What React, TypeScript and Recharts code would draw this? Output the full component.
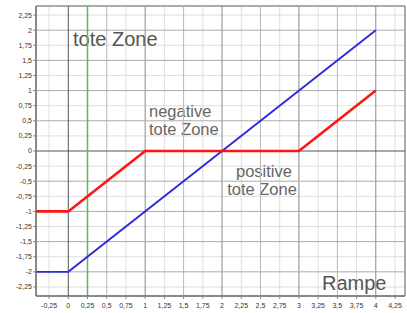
import React from 'react';
import { LineChart, Line, XAxis, YAxis, CartesianGrid, ReferenceLine, ReferenceArea } from 'recharts';

const xDomain = [-0.42, 4.38];
const yDomain = [-2.4, 2.4];

const xTicks = [-0.25, 0, 0.25, 0.5, 0.75, 1, 1.25, 1.5, 1.75, 2, 2.25, 2.5, 2.75, 3, 3.25, 3.5, 3.75, 4, 4.25];
const yTicks = [-2.25, -2, -1.75, -1.5, -1.25, -1, -0.75, -0.5, -0.25, 0, 0.25, 0.5, 0.75, 1, 1.25, 1.5, 1.75, 2, 2.25];

const xHalf = [0.5, 1.5, 2.5, 3.5];
const xWhole = [1, 2, 3, 4];
const yHalf = [-2, -1.5, -1, -0.5, 0.5, 1, 1.5, 2];

// Rampe (blau)
const rampeX = [-0.42, 0, 4];
const rampeY = [-2, -2, 2];

// mit toter Zone (rot)
const toteX = [-0.42, 0, 1, 3, 4];
const toteY = [-1, -1, 0, 0, 1];

const deadZoneX = 0.25;

const rampeData = rampeX.map((x, i) => ({ x, y: rampeY[i] }));
const toteData = toteX.map((x, i) => ({ x, y: toteY[i] }));

const fmt = (v: number) => String(v).replace('.', ',');

const font = '"Liberation Sans", Arial, sans-serif';

export default function App() {
  return (
    <div style={{ position: 'absolute', left: 0, top: 0, width: 407, height: 313, background: '#fff' }}>
      <LineChart width={407} height={313} margin={{ top: 6, right: 2, left: 0, bottom: 0 }}>
        <CartesianGrid stroke="#dedede" />
        <XAxis
          type="number"
          dataKey="x"
          domain={xDomain}
          ticks={xTicks}
          tickFormatter={fmt}
          allowDataOverflow
          height={17}
          tickSize={3}
          tickMargin={4}
          axisLine={{ stroke: '#666' }}
          tickLine={{ stroke: '#888' }}
          tick={{ fontSize: 7, fill: '#333', fontFamily: font }}
        />
        <YAxis
          type="number"
          dataKey="y"
          domain={yDomain}
          ticks={yTicks}
          tickFormatter={fmt}
          allowDataOverflow
          width={36}
          tickSize={3}
          tickMargin={1}
          axisLine={{ stroke: '#666' }}
          tickLine={{ stroke: '#888' }}
          tick={{ fontSize: 7, fill: '#333', fontFamily: font }}
        />
        {xHalf.map((v) => (
          <ReferenceLine key={'xh' + v} x={v} stroke="#b8b8b8" />
        ))}
        {xWhole.map((v) => (
          <ReferenceLine key={'xw' + v} x={v} stroke="#8a8a8a" />
        ))}
        {yHalf.map((v) => (
          <ReferenceLine key={'yh' + v} y={v} stroke="#aaaaaa" />
        ))}
        <ReferenceLine x={0} stroke="#555" />
        <ReferenceLine y={0} stroke="#555" />
        <ReferenceArea x1={xDomain[0]} x2={xDomain[1]} y1={yDomain[0]} y2={yDomain[1]} fill="none" stroke="#666" />
        <ReferenceLine x={deadZoneX} stroke="#5cb85c" strokeWidth={1.5} />
        <Line data={rampeData} dataKey="y" stroke="#2b2bdc" strokeWidth={1.9} dot={false} isAnimationActive={false} />
        <Line data={toteData} dataKey="y" stroke="#ff1414" strokeWidth={2.6} dot={false} isAnimationActive={false} />
        <text x={73} y={46} fontSize={20} fill="#555" fontFamily={font}>tote Zone</text>
        <text x={149} y={117} fontSize={16.5} fill="#666" fontFamily={font}>negative</text>
        <text x={149} y={135} fontSize={16.5} fill="#666" fontFamily={font}>tote Zone</text>
        <text x={264} y={177} fontSize={16.5} fill="#666" fontFamily={font} textAnchor="middle">positive</text>
        <text x={262} y={195} fontSize={16.5} fill="#666" fontFamily={font} textAnchor="middle">tote Zone</text>
        <text x={322} y={290} fontSize={20} fill="#555" fontFamily={font}>Rampe</text>
      </LineChart>
    </div>
  );
}
